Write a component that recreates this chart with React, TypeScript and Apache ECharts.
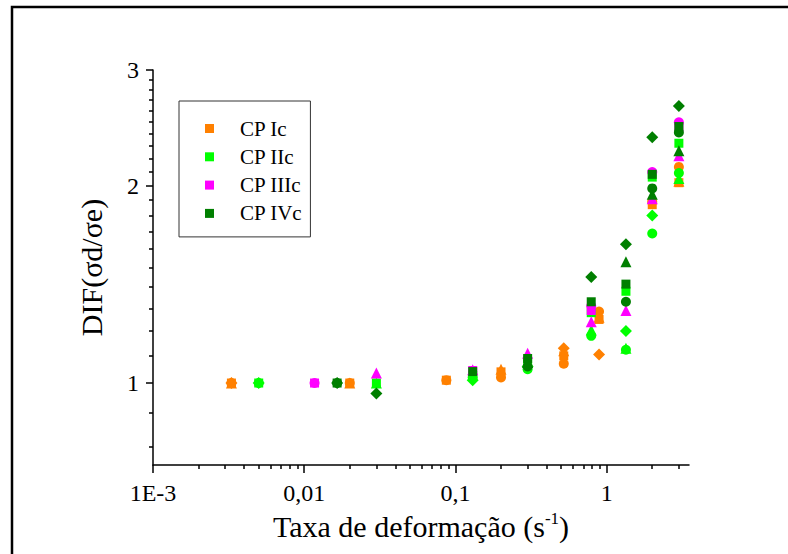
import React, { useEffect, useRef } from 'react';
import * as echarts from 'echarts';

// ---- data ----
const seriesNames = ['CP Ic', 'CP IIc', 'CP IIIc', 'CP IVc'];
const seriesColors = ['#FF8000', '#00FF00', '#FF00FF', '#007F00'];

// [strain rate (1/s), DIF]
const cpIcSquare = [[0.0033, 1.0], [0.02, 1.0], [0.087, 1.01], [0.2, 1.04], [0.52, 1.1], [0.89, 1.25], [2.0, 1.87], [3.0, 2.02]];
const cpIcCircle = [[0.0033, 1.0], [0.02, 1.0], [0.087, 1.01], [0.2, 1.02], [0.52, 1.07], [0.89, 1.285], [2.0, 1.89], [3.0, 2.135]];
const cpIcTriangle = [[0.0033, 1.0], [0.02, 1.0], [0.2, 1.05], [0.52, 1.12], [0.89, 1.26], [3.0, 2.03]];
const cpIcDiamond = [[0.0033, 1.0], [0.52, 1.13], [0.89, 1.105]];

const cpIIcSquare = [[0.005, 1.0], [0.03, 1.0], [0.13, 1.027], [0.3, 1.078], [0.79, 1.28], [1.34, 1.38], [2.0, 2.06], [3.0, 2.32]];
const cpIIcCircle = [[0.005, 1.0], [0.13, 1.02], [0.3, 1.05], [0.79, 1.18], [1.34, 1.124], [2.0, 1.69], [3.0, 2.09]];
const cpIIcTriangle = [[0.03, 1.0], [0.79, 1.205], [1.34, 1.13], [3.0, 2.05]];
const cpIIcDiamond = [[0.005, 1.0], [0.13, 1.01], [0.3, 1.06], [1.34, 1.2], [2.0, 1.8]];

const cpIIIcSquare = [[0.0117, 1.0], [0.13, 1.045], [0.79, 1.29], [3.0, 2.45]];
const cpIIIcCircle = [[0.0117, 1.0], [0.79, 1.31], [2.0, 2.097], [3.0, 2.497]];
const cpIIIcTriangle = [[0.03, 1.036], [0.13, 1.048], [0.3, 1.11], [0.79, 1.24], [1.34, 1.29], [2.0, 1.91], [3.0, 2.22]];

const cpIVcSquare = [[0.0165, 1.0], [0.13, 1.041], [0.3, 1.09], [0.79, 1.33], [1.34, 1.415], [2.0, 2.08], [3.0, 2.46]];
const cpIVcCircle = [[0.0165, 1.0], [0.3, 1.06], [1.34, 1.33], [2.0, 1.98], [3.0, 2.41]];
const cpIVcTriangle = [[0.3, 1.075], [1.34, 1.53], [2.0, 1.94], [3.0, 2.26]];
const cpIVcDiamond = [[0.0165, 1.0], [0.03, 0.964], [0.79, 1.451], [1.34, 1.628], [2.0, 2.37], [3.0, 2.644]];

// ---- axes ticks ----
const xMajorTicks = [0.001, 0.01, 0.1, 1];
const xMajorLabels = ['1E-3', '0,01', '0,1', '1'];
const xMinorTicks = [
  0.002, 0.003, 0.004, 0.005, 0.006, 0.007, 0.008, 0.009,
  0.02, 0.03, 0.04, 0.05, 0.06, 0.07, 0.08, 0.09,
  0.2, 0.3, 0.4, 0.5, 0.6, 0.7, 0.8, 0.9,
  2, 3,
];
const yMajorTicks = [1, 2, 3];
const yMajorLabels = ['1', '2', '3'];
const yMinorTicks = [0.8, 0.9, 1.1, 1.2, 1.3, 1.4, 1.5, 1.6, 1.7, 1.8, 1.9, 2.1, 2.2, 2.3, 2.4, 2.5, 2.6, 2.7, 2.8, 2.9];

const xMin = 0.001;
const xMax = 3.5;
const yMin = 0.75;
const yMax = 3;

const FONT = 'Liberation Serif';

function labelFor(v: number, ticks: number[], labels: string[]) {
  let best = 0;
  let bd = Infinity;
  ticks.forEach((t, i) => {
    const d = Math.abs(Math.log10(v) - Math.log10(t));
    if (d < bd) { bd = d; best = i; }
  });
  return bd < 0.01 ? labels[best] : '';
}

export default function App() {
  const ref = useRef<HTMLDivElement>(null);
  useEffect(() => {
    if (!ref.current) return;
    const chart = echarts.init(ref.current, undefined, { renderer: 'svg' });

    const groups = [
      { name: seriesNames[0], color: seriesColors[0], sets: [[cpIcSquare, 'rect', 9], [cpIcCircle, 'circle', 10], [cpIcTriangle, 'triangle', 11], [cpIcDiamond, 'diamond', 12]] },
      { name: seriesNames[1], color: seriesColors[1], sets: [[cpIIcSquare, 'rect', 9], [cpIIcCircle, 'circle', 10], [cpIIcTriangle, 'triangle', 11], [cpIIcDiamond, 'diamond', 12]] },
      { name: seriesNames[2], color: seriesColors[2], sets: [[cpIIIcSquare, 'rect', 9], [cpIIIcCircle, 'circle', 10], [cpIIIcTriangle, 'triangle', 11]] },
      { name: seriesNames[3], color: seriesColors[3], sets: [[cpIVcSquare, 'rect', 9], [cpIVcCircle, 'circle', 10], [cpIVcTriangle, 'triangle', 11], [cpIVcDiamond, 'diamond', 12]] },
    ];
    const series: any[] = [];
    groups.forEach((g) => {
      g.sets.forEach((s: any) => {
        series.push({
          type: 'scatter',
          name: g.name,
          xAxisIndex: 0,
          yAxisIndex: 0,
          data: s[0],
          symbol: s[1],
          symbolSize: s[2],
          itemStyle: { color: g.color, opacity: 1 },
          emphasis: { disabled: true },
        });
      });
    });

    const axisLineStyle = { color: '#000', width: 1.5 };

    chart.setOption({
      animation: false,
      backgroundColor: '#ffffff',
      grid: { left: 153, right: 99, top: 70, bottom: 89 },
      xAxis: [
        {
          type: 'log', logBase: 10, min: xMin, max: xMax, position: 'bottom',
          name: '{a|Taxa de deformação (s}{s|-1}{a|)}',
          nameLocation: 'middle', nameGap: 38,
          nameTextStyle: {
            rich: {
              a: { fontSize: 30, fontFamily: FONT, color: '#000', lineHeight: 34 },
              s: { fontSize: 17, fontFamily: FONT, color: '#000', verticalAlign: 'top', lineHeight: 34 },
            },
          },
          axisLine: { show: true, lineStyle: axisLineStyle },
          axisTick: { show: true, customValues: xMajorTicks, length: 8, lineStyle: axisLineStyle },
          axisLabel: {
            customValues: xMajorTicks, fontSize: 24, fontFamily: FONT, color: '#000', margin: 16,
            formatter: (v: number) => labelFor(v, xMajorTicks, xMajorLabels),
          },
          minorTick: { show: false },
          splitLine: { show: false },
        },
        {
          type: 'log', logBase: 10, min: xMin, max: xMax, position: 'bottom', offset: 0,
          axisLine: { show: false },
          axisTick: { show: true, customValues: xMinorTicks, length: 4, lineStyle: axisLineStyle },
          axisLabel: { show: false },
          splitLine: { show: false },
        },
      ],
      yAxis: [
        {
          type: 'log', logBase: 10, min: yMin, max: yMax, position: 'left',
          name: 'DIF(σd/σe)', nameLocation: 'middle', nameGap: 47,
          nameTextStyle: { fontSize: 30, fontFamily: FONT, color: '#000' },
          axisLine: { show: true, lineStyle: axisLineStyle },
          axisTick: { show: true, customValues: yMajorTicks, length: 7, lineStyle: axisLineStyle },
          axisLabel: {
            customValues: yMajorTicks, fontSize: 24, fontFamily: FONT, color: '#000', margin: 14,
            formatter: (v: number) => labelFor(v, yMajorTicks, yMajorLabels),
          },
          minorTick: { show: false },
          splitLine: { show: false },
        },
        {
          type: 'log', logBase: 10, min: yMin, max: yMax, position: 'left', offset: 0,
          axisLine: { show: false },
          axisTick: { show: true, customValues: yMinorTicks, length: 4, lineStyle: axisLineStyle },
          axisLabel: { show: false },
          splitLine: { show: false },
        },
      ],
      legend: {
        data: seriesNames.map((n) => ({ name: n, icon: 'rect' })),
        orient: 'vertical',
        left: 179, top: 101,
        padding: [17, 8, 13, 26],
        itemWidth: 9, itemHeight: 9, itemGap: 7.3,
        borderColor: '#333', borderWidth: 1,
        selectedMode: false,
        textStyle: { fontSize: 21, fontFamily: FONT, color: '#000', lineHeight: 21, padding: [0, 0, 0, 21] },
      },
      graphic: [
        {
          type: 'polyline', silent: true, z: -1,
          shape: { points: [[12, 700], [12, 7], [900, 7]] },
          style: { fill: 'none', stroke: '#000', lineWidth: 2.5 },
        },
      ],
      series,
    });
    return () => chart.dispose();
  }, []);
  return <div ref={ref} style={{ position: 'fixed', left: 0, top: 0, width: 788, height: 554 }} />;
}
